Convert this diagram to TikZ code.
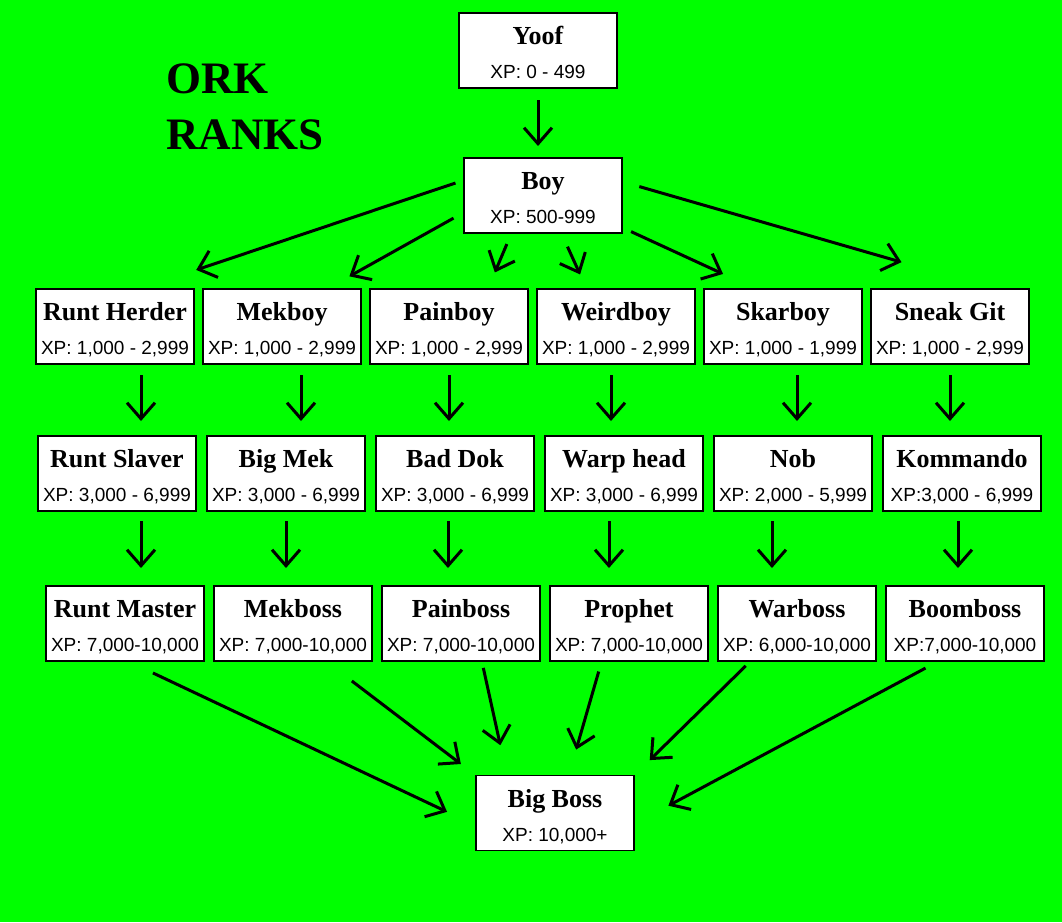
\documentclass[tikz,border=0pt]{standalone}
\usepackage{fontspec}
\setmainfont{Liberation Serif}
\newfontfamily\xpfamily{Liberation Sans}
\usetikzlibrary{arrows.meta,positioning}
\definecolor{orkgreen}{RGB}{0,255,0}
\newcommand{\xptext}[1]{{\normalfont\xpfamily\fontsize{19}{22}\selectfont #1}}
\tikzset{
  rank/.style={draw, fill=white, line width=1.8pt, minimum width=158pt,
    minimum height=75pt, inner sep=0pt, outer sep=0pt, align=center,
    font=\bfseries\fontsize{26}{28}\selectfont,
    text height=56pt, text depth=0pt},
  arr/.style={-{Straight Barb[length=16pt,width=28pt]}, line width=3pt}
}

\begin{document}
\begin{tikzpicture}[x=1pt, y=-1pt]
  \fill[orkgreen] (0,0) rectangle (1062,922);
  \useasboundingbox (0,0) rectangle (1062,922);

  \node[anchor=north west, inner sep=0pt, align=left,
        font=\bfseries\fontsize{45}{56}\selectfont] (heading) at (166,63) {ORK\\RANKS};

  \node[rank] (yoof) at (538,50.5) {Yoof\\[6pt]\xptext{XP: 0 - 499}};
  \node[rank, below=70pt of yoof, xshift=5pt] (boy) {Boy\\[6pt]\xptext{XP: 500-999}};

  % first branch
  \node[rank] (rherder) at (115,326.5) {Runt Herder\\[6pt]\xptext{XP: 1,000 - 2,999}};
  \node[rank, right=9pt of rherder] (mekboy) {Mekboy\\[6pt]\xptext{XP: 1,000 - 2,999}};
  \node[rank, right=9pt of mekboy] (painboy) {Painboy\\[6pt]\xptext{XP: 1,000 - 2,999}};
  \node[rank, right=9pt of painboy] (weirdboy) {Weirdboy\\[6pt]\xptext{XP: 1,000 - 2,999}};
  \node[rank, right=9pt of weirdboy] (skarboy) {Skarboy\\[6pt]\xptext{XP: 1,000 - 1,999}};
  \node[rank, right=9pt of skarboy] (sneakgit) {Sneak Git\\[6pt]\xptext{XP: 1,000 - 2,999}};

  % second step
  \node[rank, below=72pt of rherder, xshift=2pt] (rslaver) {Runt Slaver\\[6pt]\xptext{XP: 3,000 - 6,999}};
  \node[rank, right=11pt of rslaver] (bigmek) {Big Mek\\[6pt]\xptext{XP: 3,000 - 6,999}};
  \node[rank, right=11pt of bigmek] (baddok) {Bad Dok\\[6pt]\xptext{XP: 3,000 - 6,999}};
  \node[rank, right=11pt of baddok] (warphead) {Warp head\\[6pt]\xptext{XP: 3,000 - 6,999}};
  \node[rank, right=11pt of warphead] (nob) {Nob\\[6pt]\xptext{XP: 2,000 - 5,999}};
  \node[rank, right=11pt of nob] (kommando) {Kommando\\[6pt]\xptext{XP:3,000 - 6,999}};

  % bosses
  \node[rank, below=75pt of rslaver, xshift=8pt] (rmaster) {Runt Master\\[6pt]\xptext{XP: 7,000-10,000}};
  \node[rank, right=10pt of rmaster] (mekboss) {Mekboss\\[6pt]\xptext{XP: 7,000-10,000}};
  \node[rank, right=10pt of mekboss] (painboss) {Painboss\\[6pt]\xptext{XP: 7,000-10,000}};
  \node[rank, right=10pt of painboss] (prophet) {Prophet\\[6pt]\xptext{XP: 7,000-10,000}};
  \node[rank, right=10pt of prophet] (warboss) {Warboss\\[6pt]\xptext{XP: 6,000-10,000}};
  \node[rank, right=10pt of warboss] (boomboss) {Boomboss\\[6pt]\xptext{XP:7,000-10,000}};

  \node[rank] (bigboss) at (555,813) {Big Boss\\[6pt]\xptext{XP: 10,000+}};

  \draw[arr, shorten <=12pt, shorten >=12pt] (yoof.south) -- (yoof.south |- boy.north);

  \draw[arr, shorten <=9pt, shorten >=60pt] (boy.169) -- (rherder.57);
  \draw[arr, shorten <=12pt, shorten >=26pt] (boy.192) -- (mekboy.40);
  \draw[arr, shorten <=12pt, shorten >=18pt] (boy.230) -- (painboy.44);
  \draw[arr, shorten <=15pt, shorten >=16pt] (boy.296) -- (weirdboy.128);
  \draw[arr, shorten <=10pt, shorten >=36pt] (boy.338) -- (skarboy.126);
  \draw[arr, shorten <=18pt, shorten >=97pt] (boy.10) -- (sneakgit.40);

  \draw[arr, shorten <=11pt, shorten >=15pt] ([xshift=26pt]rherder.south) -- ([xshift=26pt]rherder.south |- rslaver.north);
  \draw[arr, shorten <=11pt, shorten >=15pt] ([xshift=19pt]mekboy.south) -- ([xshift=19pt]mekboy.south |- bigmek.north);
  \draw[arr, shorten <=11pt, shorten >=15pt] (painboy.south) -- (painboy.south |- baddok.north);
  \draw[arr, shorten <=11pt, shorten >=15pt] ([xshift=-5pt]weirdboy.south) -- ([xshift=-5pt]weirdboy.south |- warphead.north);
  \draw[arr, shorten <=11pt, shorten >=15pt] ([xshift=14pt]skarboy.south) -- ([xshift=14pt]skarboy.south |- nob.north);
  \draw[arr, shorten <=11pt, shorten >=15pt] (sneakgit.south) -- (sneakgit.south |- kommando.north);

  \draw[arr, shorten <=10pt, shorten >=18pt] ([xshift=24pt]rslaver.south) -- ([xshift=24pt]rslaver.south |- rmaster.north);
  \draw[arr, shorten <=10pt, shorten >=18pt] (bigmek.south) -- (bigmek.south |- mekboss.north);
  \draw[arr, shorten <=10pt, shorten >=18pt] ([xshift=-7pt]baddok.south) -- ([xshift=-7pt]baddok.south |- painboss.north);
  \draw[arr, shorten <=10pt, shorten >=18pt] ([xshift=-15pt]warphead.south) -- ([xshift=-15pt]warphead.south |- prophet.north);
  \draw[arr, shorten <=10pt, shorten >=18pt] ([xshift=-21pt]nob.south) -- ([xshift=-21pt]nob.south |- warboss.north);
  \draw[arr, shorten <=10pt, shorten >=18pt] ([xshift=-4pt]kommando.south) -- ([xshift=-4pt]kommando.south |- boomboss.north);

  \draw[arr, shorten <=28pt, shorten >=32pt] (rmaster.274) -- (bigboss.189);
  \draw[arr, shorten <=33pt, shorten >=19pt] (mekboss.311) -- (bigboss.north west);
  \draw[arr, shorten <=7pt, shorten >=31pt] (painboss.299) -- (bigboss.142);
  \draw[arr, shorten <=11pt, shorten >=27pt] (prophet.234) -- (bigboss.70);
  \draw[arr, shorten <=7pt, shorten >=22pt] (warboss.219) -- (bigboss.north east);
  \draw[arr, shorten <=15pt, shorten >=39pt] (boomboss.235) -- (bigboss.352);
\end{tikzpicture}
\end{document}
